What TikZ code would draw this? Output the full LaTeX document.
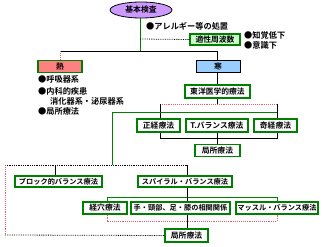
\documentclass[tikz,border=0pt]{standalone}
\usepackage{fontspec}
\setmainfont{Noto Sans CJK JP}[BoldFont={Noto Sans CJK JP Bold}]
\usetikzlibrary{shapes.geometric}
\definecolor{gline}{HTML}{008000}
\definecolor{pline}{HTML}{E06070}
\definecolor{purp}{HTML}{CC99FF}
\definecolor{redf}{HTML}{FF8080}
\definecolor{bluef}{HTML}{99CCFF}
\definecolor{greenf}{HTML}{CCFFCC}
\tikzset{
  bx/.style={draw=gline, line width=1.3bp, fill=white, inner sep=0pt, minimum height=12bp,
    font=\fontsize{7.8bp}{8bp}\selectfont\bfseries},
  sm/.style={font=\fontsize{7.2bp}{8bp}\selectfont\bfseries},
  lbl/.style={inner sep=0pt, anchor=west, font=\fontsize{8.2bp}{9bp}\selectfont\bfseries},
  ln/.style={line width=0.8bp, black},
  gln/.style={line width=0.9bp, gline},
  pln/.style={line width=0.9bp, pline, densely dotted},
  dln/.style={line width=0.8bp, black, densely dotted}
}
\begin{document}
\begin{tikzpicture}[x=1bp,y=-1bp]
\useasboundingbox (0,0) rectangle (324,247);
% nodes
\node[ellipse, draw=black, line width=0.8bp, fill=purp, minimum width=62bp, minimum height=16bp, inner sep=0pt,
  font=\fontsize{7.8bp}{8bp}\selectfont\bfseries] (top) at (141,10) {基本検査};
\node[lbl] (allergy) at (146,26) {●アレルギー等の処置};
\node[bx, fill=greenf, minimum width=50bp, minimum height=11bp] (freq) at (215,39.5) {適性周波数};
\node[lbl] (chikaku) at (244,35) {●知覚低下};
\node[lbl] (ishiki) at (244,45) {●意識下};
\node[bx, fill=redf, minimum width=44bp] (heat) at (60,66.5) {熱};
\node[bx, draw=black, line width=1bp, fill=bluef, minimum width=44bp] (cold) at (218,66.5) {寒};
\node[lbl] (l1) at (38,79) {●呼吸器系};
\node[lbl] (l2) at (38,91) {●内科的疾患};
\node[lbl] (l3) at (50,101) {消化器系・泌尿器系};
\node[lbl] (l4) at (38,111) {●局所療法};
\node[bx, minimum width=65bp, minimum height=13bp] (toyo) at (217.5,91.5) {東洋医学的療法};
\node[bx, minimum width=43bp, minimum height=13bp] (seikei) at (158.5,125.5) {正経療法};
\node[bx, minimum width=62bp, minimum height=13bp] (tbal) at (217,125.5) {T.バランス療法};
\node[bx, minimum width=43bp, minimum height=13bp] (kikei) at (275.5,125.5) {奇経療法};
\node[bx, minimum width=45bp] (kyoku1) at (217.5,150.5) {局所療法};
\node[bx, sm, minimum width=87bp, minimum height=11bp] (block) at (58.5,181.5) {ブロック的バランス療法};
\node[bx, sm, minimum width=94bp, minimum height=11bp] (spiral) at (185,181.5) {スパイラル・バランス療法};
\node[bx, minimum width=44bp] (keiketsu) at (105,208) {経穴療法};
\node[bx, sm, minimum width=99bp] (te) at (180.5,208) {手・頸部、足・膝の相関関係};
\node[bx, sm, minimum width=82bp] (muscle) at (277,208) {マッスル・バランス療法};
\node[bx, minimum width=43bp, minimum height=13bp] (kyoku2) at (186.5,235.5) {局所療法};
% junction coordinates
\coordinate (jtop) at (140,51);
\coordinate (jfreq) at (140,39);
\coordinate (jL) at (60,51);
\coordinate (jR) at (217,51);
\coordinate (a1) at (160,104);
\coordinate (a3) at (277,104);
\coordinate (a2) at (217,104);
\coordinate (g1) at (277,112);
\coordinate (g2) at (112,112);
\coordinate (g3) at (112,165);
\coordinate (b1) at (160,138);
\coordinate (b3) at (277,138);
\coordinate (b2) at (217,138);
\coordinate (c0) at (5,165);
\coordinate (c1) at (55,165);
\coordinate (c2) at (187,165);
\coordinate (c4) at (5,235);
\coordinate (d1) at (107,197);
\coordinate (d2) at (187,197);
\coordinate (d3) at (277,197);
\coordinate (e1) at (107,221);
\coordinate (e2) at (187,221);
\coordinate (e3) at (277,221);
% connectors
\draw[gln] (top.south -| jtop) -- (jtop);
\draw[dln] (jfreq) -- (freq.west);
\draw[ln] (jL) -- (jR);
\draw[pln] (jL) -- (heat.north -| jL);
\draw[ln] (jR) -- (cold.north -| jR);
\draw[ln] (cold.south -| jR) -- (toyo.north -| jR);
\draw[ln] (toyo.south -| a2) -- (a2);
\draw[pln] (a1) -- (a3);
\draw[ln] (a1) -- (seikei.north -| a1);
\draw[ln] (a3) -- (kikei.north -| a3);
\draw[gln] (g1) -- (g2) -- (g3);
\draw[ln] (seikei.south -| b1) -- (b1) -- (b3) -- (kikei.south -| b3);
\draw[ln] (tbal.south -| b2) -- (kyoku1.north -| b2);
\draw[dln] (c0) -- (c2);
\draw[ln] (c1) -- (block.north -| c1);
\draw[ln] (c2) -- (spiral.north -| c2);
\draw[pln] (c0) -- (c4);
\draw[dln] (c4) -- (kyoku2.west);
\draw[ln] (spiral.south -| d2) -- (d2);
\draw[gln] (d1) -- (d3);
\draw[gln] (d1) -- (keiketsu.north -| d1);
\draw[gln] (d3) -- (muscle.north -| d3);
\draw[ln] (d2) -- (te.north -| d2);
\draw[pln] (keiketsu.south -| e1) -- (e1) -- (e3) -- (muscle.south -| e3);
\draw[ln] (te.south -| e2) -- (kyoku2.north -| e2);
\end{tikzpicture}
\end{document}
